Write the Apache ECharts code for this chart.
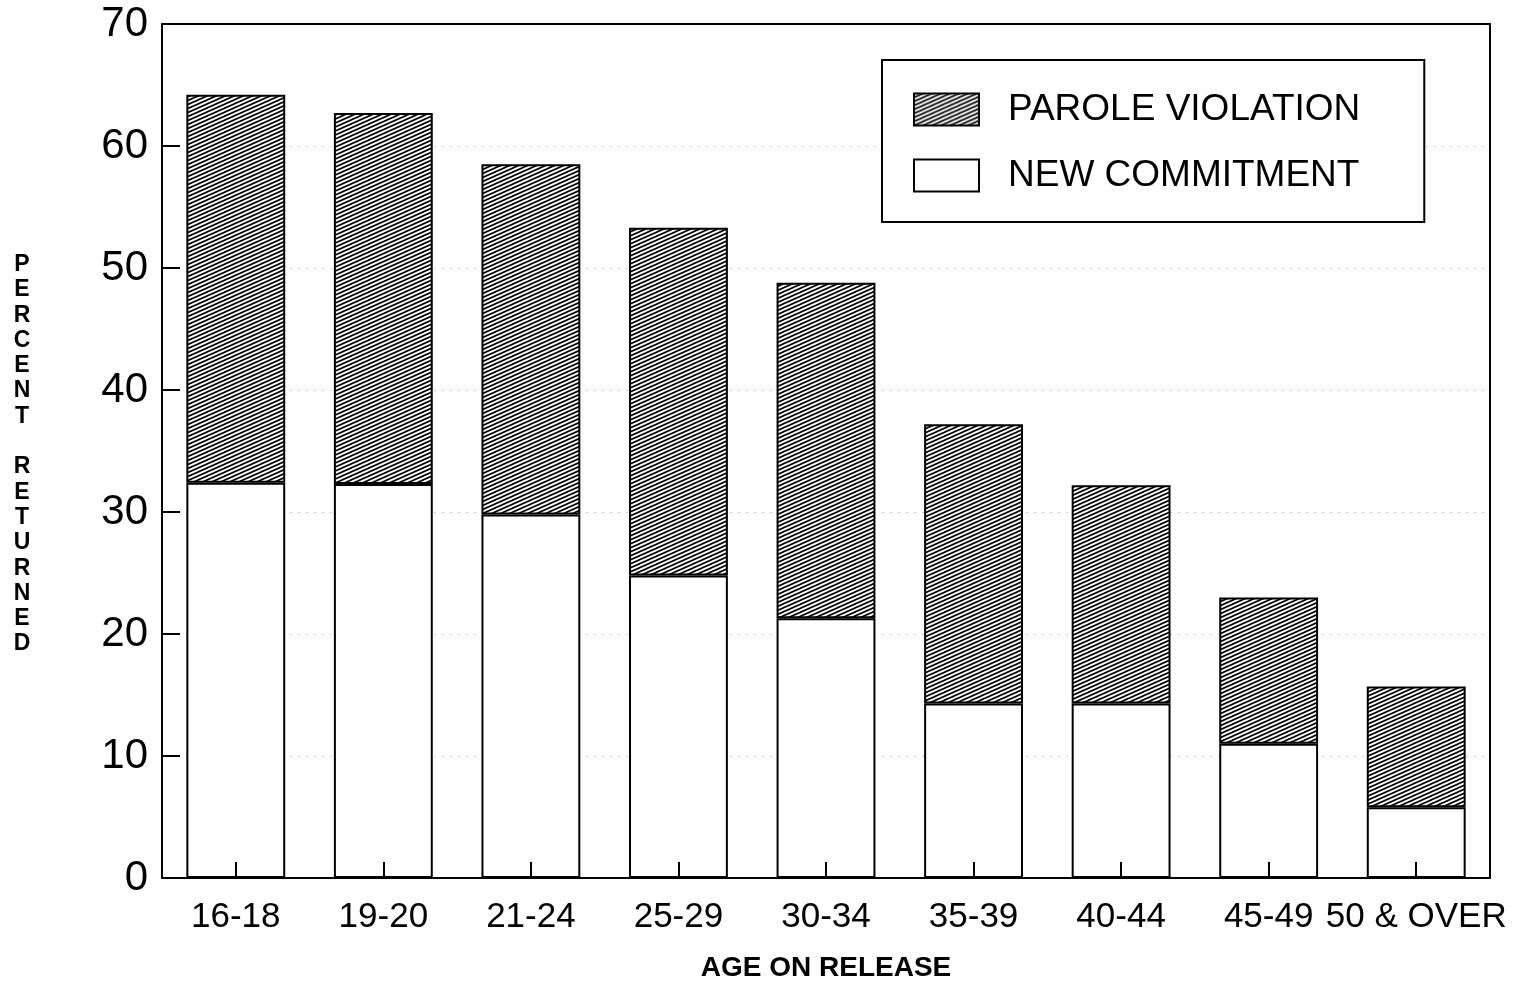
<!DOCTYPE html>
<html>
<head>
<meta charset="utf-8">
<script src="https://cdn.jsdelivr.net/npm/echarts@6/dist/echarts.min.js"></script>
<style>
html,body{margin:0;padding:0;background:#fff;}
#chart{width:1524px;height:981px;}
</style>
</head>
<body>
<div id="chart"></div>
<script>
const categories = ['16-18','19-20','21-24','25-29','30-34','35-39','40-44','45-49','50 & OVER'];
const newCommitment = [32.4, 32.3, 29.8, 24.8, 21.3, 14.3, 14.3, 11.0, 5.8];
const paroleViolation = [31.8, 30.4, 28.7, 28.5, 27.5, 22.9, 17.9, 12.0, 9.9];
const yTicks = [0, 10, 20, 30, 40, 50, 60, 70];
const seriesNames = ['PAROLE VIOLATION', 'NEW COMMITMENT'];
const yTitle = 'PERCENT RETURNED';
const xTitle = 'AGE ON RELEASE';

function makeHatch() {
  const w = 9, h = 4;
  const c = document.createElement('canvas');
  c.width = w; c.height = h;
  const ctx = c.getContext('2d');
  ctx.fillStyle = '#fff';
  ctx.fillRect(0, 0, w, h);
  ctx.strokeStyle = '#000';
  ctx.lineWidth = 1.6;
  for (let k = -1; k <= 1; k++) {
    ctx.beginPath();
    ctx.moveTo(-w, 2 * h + h * k);
    ctx.lineTo(2 * w, -h + h * k);
    ctx.stroke();
  }
  return c;
}
const hatch = makeHatch();
const FONT = 'Liberation Sans';

const chart = echarts.init(document.getElementById('chart'), null, {renderer: 'canvas'});
const yLetters = yTitle.split('').join('\n');

chart.setOption({
  backgroundColor: '#fff',
  animation: false,
  grid: {left: 162, right: 34, top: 24, bottom: 103, outerBoundsMode: 'none', containLabel: false},
  legend: {
    data: seriesNames,
    orient: 'vertical',
    left: 882, top: 60,
    itemWidth: 65, itemHeight: 32,
    itemGap: 29,
    icon: 'rect',
    padding: [31, 64, 28, 31],
    backgroundColor: '#fff',
    borderColor: '#000', borderWidth: 2,
    selectedMode: false,
    textStyle: {fontFamily: FONT, fontSize: 37, color: '#000', padding: [6, 0, 0, 24]}
  },
  xAxis: [{
    type: 'category',
    data: categories,
    z: 10,
    name: xTitle,
    nameLocation: 'middle',
    nameGap: 76,
    nameTextStyle: {fontFamily: FONT, fontSize: 28, fontWeight: 'bold', color: '#000'},
    axisLine: {lineStyle: {color: '#000', width: 2}},
    axisTick: {show: true, inside: true, alignWithLabel: true, length: 16, lineStyle: {color: '#000', width: 2}},
    axisLabel: {interval: 0, margin: 22, fontFamily: FONT, fontSize: 35, color: '#000', hideOverlap: false}
  }, {
    type: 'category',
    data: categories,
    position: 'top',
    z: 10,
    axisLine: {show: true, onZero: false, lineStyle: {color: '#000', width: 2}},
    axisTick: {show: false},
    axisLabel: {show: false},
    splitLine: {show: false}
  }],
  yAxis: [{
    type: 'value',
    min: yTicks[0], max: yTicks[yTicks.length - 1], interval: 10,
    axisLine: {show: true, lineStyle: {color: '#000', width: 2}},
    axisTick: {show: true, inside: true, length: 18, lineStyle: {color: '#000', width: 2}},
    axisLabel: {margin: 14, fontFamily: FONT, fontSize: 42, color: '#000'},
    splitLine: {show: true, lineStyle: {color: '#c8c8c8', width: 1, type: [2, 6]}}
  }, {
    type: 'value',
    position: 'right',
    min: yTicks[0], max: yTicks[yTicks.length - 1], interval: 10,
    axisLine: {show: true, onZero: false, lineStyle: {color: '#000', width: 2}},
    axisTick: {show: false},
    axisLabel: {show: false},
    splitLine: {show: false}
  }],
  graphic: [{
    type: 'text',
    x: 22,
    y: 252,
    style: {
      text: yLetters,
      font: 'bold 23px "Liberation Sans"',
      fill: '#000',
      textAlign: 'center',
      textVerticalAlign: 'top',
      lineHeight: 25.3
    }
  }],
  series: [
    {
      name: seriesNames[1],
      type: 'bar',
      stack: 'total',
      barWidth: '67%',
      data: newCommitment,
      itemStyle: {color: '#fff', borderColor: '#000', borderWidth: 2}
    },
    {
      name: seriesNames[0],
      type: 'bar',
      stack: 'total',
      barWidth: '67%',
      data: paroleViolation,
      itemStyle: {color: {image: hatch, repeat: 'repeat'}, borderColor: '#000', borderWidth: 2}
    }
  ]
});
</script>
</body>
</html>
